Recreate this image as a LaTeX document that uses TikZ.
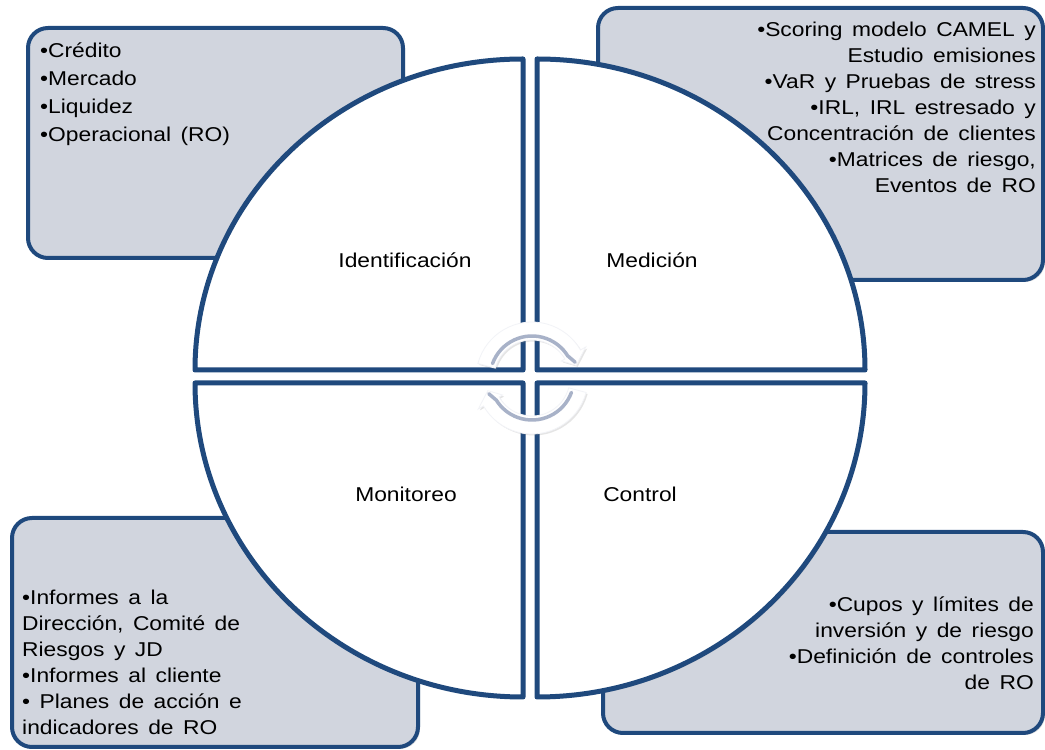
\documentclass[tikz,border=0pt]{standalone}
\usepackage{fontspec}
\setmainfont[FakeStretch=1.14, WordSpace=1.5]{Liberation Sans}
\usetikzlibrary{shadows}
\definecolor{frameblue}{RGB}{31,73,125}
\definecolor{boxgray}{RGB}{209,213,222}
\definecolor{cyclegray}{RGB}{168,178,200}

\begin{document}
\begin{tikzpicture}[x=1pt, y=1pt,
    font=\fontsize{20}{26}\selectfont,
    infobox/.style={draw=frameblue, line width=4pt, fill=boxgray, rounded corners=20pt,
      drop shadow={opacity=0.25, shadow xshift=2pt, shadow yshift=-2pt}},
    quadrant/.style={draw=frameblue, line width=5pt, fill=white, line join=round,
      drop shadow={opacity=0.25, shadow xshift=2pt, shadow yshift=-2pt}},
    infotext/.style={inner sep=0pt},
    cycleband/.style={fill=white, draw=white!85!cyclegray, line width=0.8pt,
      drop shadow={opacity=0.2, shadow xshift=1.5pt, shadow yshift=-1.5pt}},
    cycleline/.style={draw=cyclegray, line width=3.5pt, line cap=round}]
  \useasboundingbox (0,0) rectangle (1045,750);
  \foreach \n/\cx/\cy/\w/\h in {ident/215.5/607/375/230, medic/820.5/606/445/272,
      monit/215/117.5/406/229, contr/823/117.5/440/201}
    \node [infobox, minimum width=\w pt, minimum height=\h pt] (\n-box) at (\cx,\cy) {};
  \node [infotext, anchor=north west, align=left, font=\fontsize{20}{28}\selectfont]
    (ident-text) at (40,707)
    {•Crédito\\•Mercado\\•Liquidez\\•Operacional (RO)};
  \node [infotext, anchor=north east, align=right] (medic-text) at (1036,728)
    {•Scoring modelo CAMEL y\\Estudio emisiones\\•VaR y Pruebas de stress\\
     •IRL, IRL estresado y\\Concentración de clientes\\•Matrices de riesgo,\\Eventos de RO};
  \node [infotext, anchor=north west, align=left] (monit-text) at (22,160)
    {•Informes a la\\Dirección, Comité de\\Riesgos y JD\\•Informes al cliente\\
     • Planes de acción e\\indicadores de RO};
  \node [infotext, anchor=north east, align=right] (contr-text) at (1034,153)
    {•Cupos y límites de\\inversión y de riesgo\\•Definición de controles\\de RO};
  \draw [quadrant] (523,380) -- (195,380)
    arc [start angle=180, end angle=90, x radius=328, y radius=311] -- cycle;
  \draw [quadrant] (537,380) -- (537,691)
    arc [start angle=90, end angle=0, x radius=328, y radius=311] -- cycle;
  \draw [quadrant] (523,367) -- (195,367)
    arc [start angle=180, end angle=270, x radius=328, y radius=314] -- cycle;
  \draw [quadrant] (537,367) -- (865,367)
    arc [start angle=0, end angle=-90, x radius=328, y radius=314] -- cycle;
  \coordinate (hub) at (532,372);
  \foreach \r in {0,180} {
    \filldraw [cycleband] ([shift={(165+\r:56)}]hub)
      arc [start angle=165+\r, end angle=30+\r, radius=56]
      -- ([shift={(30+\r:62)}]hub) -- ([shift={(16+\r:46)}]hub)
      -- ([shift={(30+\r:34)}]hub) -- ([shift={(30+\r:38)}]hub)
      arc [start angle=30+\r, end angle=165+\r, radius=38] -- cycle;
    \draw [cycleline] ([shift={(160+\r:42)}]hub)
      arc [start angle=160+\r, end angle=32+\r, radius=42]
      -- ([shift={(20+\r:46)}]hub);
  }
  \foreach \l/\x/\y [count=\i] in {Identificación/405/490, Medición/652/490,
      Monitoreo/406/256, Control/640/256}
    \node (phase-\i) at (\x,\y) {\l};
\end{tikzpicture}
\end{document}
